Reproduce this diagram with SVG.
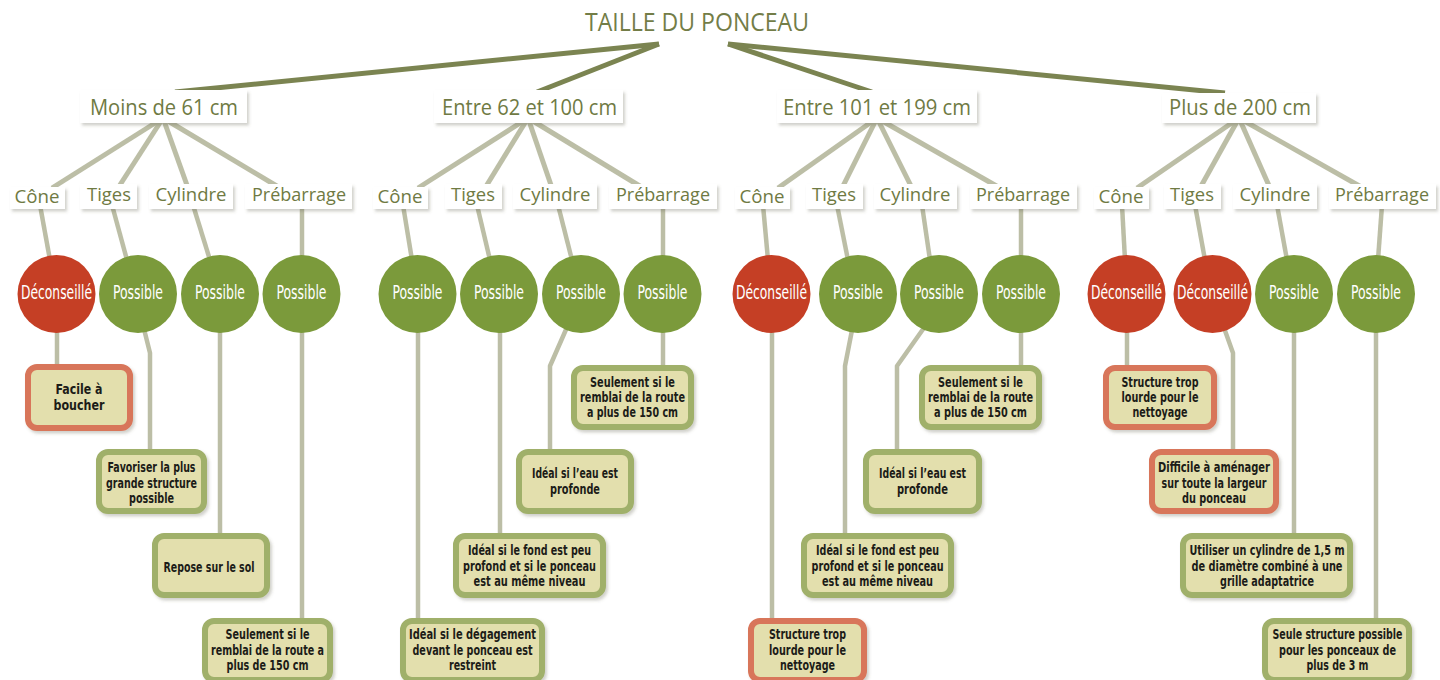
<svg xmlns="http://www.w3.org/2000/svg" width="1440" height="680" viewBox="0 0 1440 680">
<defs>
<filter id="sh" x="-20%" y="-20%" width="140%" height="150%">
<feDropShadow dx="2" dy="2.5" stdDeviation="1.6" flood-color="#5a5a40" flood-opacity="0.28"/>
</filter>
</defs>
<style>
.ttl{font-family:"Open Sans","Noto Sans","Liberation Sans",sans-serif;font-size:25px;fill:#737d47;text-anchor:middle}
.l1{font-family:"Open Sans","Noto Sans","Liberation Sans",sans-serif;font-size:21px;fill:#6f7a43;text-anchor:middle}
.l2{font-family:"Open Sans","Noto Sans","Liberation Sans",sans-serif;font-size:19px;fill:#6f7a43;text-anchor:middle}
.lb{fill:#ffffff;filter:url(#sh)}
.ok{fill:#7b9a3b}
.no{fill:#c53f25}
.ct{font-family:"Liberation Sans Narrow","DejaVu Sans Condensed","Roboto","Liberation Sans",sans-serif;font-stretch:condensed;font-size:19px;fill:#ffffff;text-anchor:middle}
.bx{fill:#e3dfad;stroke:#a0b06b;stroke-width:6;filter:url(#sh)}
.bxr{fill:#e3dfad;stroke:#d8765a;stroke-width:6;filter:url(#sh)}
.bt{font-family:"Liberation Sans Narrow","DejaVu Sans Condensed","Roboto","Liberation Sans",sans-serif;font-stretch:condensed;font-weight:bold;font-size:13.5px;fill:#1c1c18;text-anchor:middle}
.big{font-size:14.5px}
.c0{stroke:#7b8451;stroke-width:5;fill:none}
.c1{stroke:#bcbea6;stroke-width:5;fill:none}
.c2{stroke:#bcbea6;stroke-width:4.5;fill:none;stroke-linejoin:round}
</style>

<g id="connectors">
<line class="c0" x1="659" y1="44" x2="175" y2="92"/>
<line class="c0" x1="659" y1="44" x2="537" y2="92"/>
<line class="c0" x1="728" y1="44" x2="872" y2="92"/>
<line class="c0" x1="728" y1="44" x2="1225" y2="93"/>

<line class="c1" x1="163" y1="118" x2="52" y2="188"/>
<line class="c1" x1="163" y1="118" x2="118" y2="188"/>
<line class="c1" x1="163" y1="118" x2="188" y2="188"/>
<line class="c1" x1="163" y1="118" x2="280" y2="188"/>
<line class="c1" x1="528" y1="118" x2="418" y2="188"/>
<line class="c1" x1="528" y1="118" x2="485" y2="188"/>
<line class="c1" x1="528" y1="118" x2="552" y2="188"/>
<line class="c1" x1="528" y1="118" x2="643" y2="188"/>
<line class="c1" x1="877" y1="118" x2="778" y2="188"/>
<line class="c1" x1="877" y1="118" x2="842" y2="188"/>
<line class="c1" x1="877" y1="118" x2="912" y2="188"/>
<line class="c1" x1="877" y1="118" x2="1000" y2="188"/>
<line class="c1" x1="1239" y1="118" x2="1137" y2="188"/>
<line class="c1" x1="1239" y1="118" x2="1200" y2="188"/>
<line class="c1" x1="1239" y1="118" x2="1270" y2="188"/>
<line class="c1" x1="1239" y1="118" x2="1363" y2="188"/>

<line class="c2" x1="40" y1="205" x2="50" y2="260"/>
<line class="c2" x1="112" y1="205" x2="127" y2="260"/>
<line class="c2" x1="193" y1="205" x2="210" y2="260"/>
<line class="c2" x1="302" y1="205" x2="302" y2="260"/>
<line class="c2" x1="403" y1="205" x2="412" y2="260"/>
<line class="c2" x1="477" y1="205" x2="490" y2="260"/>
<line class="c2" x1="558" y1="205" x2="572" y2="260"/>
<line class="c2" x1="663" y1="205" x2="663" y2="260"/>
<line class="c2" x1="763" y1="205" x2="768" y2="260"/>
<line class="c2" x1="837" y1="205" x2="848" y2="260"/>
<line class="c2" x1="922" y1="205" x2="930" y2="260"/>
<line class="c2" x1="1021" y1="205" x2="1021" y2="260"/>
<line class="c2" x1="1122" y1="205" x2="1125" y2="260"/>
<line class="c2" x1="1195" y1="205" x2="1205" y2="260"/>
<line class="c2" x1="1277" y1="205" x2="1287" y2="260"/>
<line class="c2" x1="1382" y1="205" x2="1378" y2="260"/>

<path class="c2" d="M57,325 V367"/>
<path class="c2" d="M143,325 L150,353 V452"/>
<path class="c2" d="M220,325 V536"/>
<path class="c2" d="M302,325 V621"/>
<path class="c2" d="M418,325 V621"/>
<path class="c2" d="M500,325 V536"/>
<path class="c2" d="M568,325 L550,366 V452"/>
<path class="c2" d="M663,325 V368"/>
<path class="c2" d="M772,325 V621"/>
<path class="c2" d="M853,325 L845,366 V536"/>
<path class="c2" d="M926,325 L897,366 V452"/>
<path class="c2" d="M1021,325 V368"/>
<path class="c2" d="M1127,325 V368"/>
<path class="c2" d="M1223,325 L1233,353 V452"/>
<path class="c2" d="M1294,325 V536"/>
<path class="c2" d="M1376,325 V621"/>
</g>

<g id="title"><text class="ttl" x="697" y="31" textLength="224" lengthAdjust="spacingAndGlyphs">TAILLE DU PONCEAU</text></g>

<g id="size1"><rect class="lb" x="80" y="90" width="167" height="33"/><text class="l1" x="164" y="115" textLength="148" lengthAdjust="spacingAndGlyphs">Moins de 61 cm</text></g>
<g id="size2"><rect class="lb" x="434" y="90" width="189" height="33"/><text class="l1" x="529.5" y="115" textLength="175" lengthAdjust="spacingAndGlyphs">Entre 62 et 100 cm</text></g>
<g id="size3"><rect class="lb" x="777" y="90" width="200" height="33"/><text class="l1" x="877" y="115" textLength="188" lengthAdjust="spacingAndGlyphs">Entre 101 et 199 cm</text></g>
<g id="size4"><rect class="lb" x="1162" y="93" width="154" height="30"/><text class="l1" x="1240" y="115" textLength="142" lengthAdjust="spacingAndGlyphs">Plus de 200 cm</text></g>

<g id="g1-cone"><rect class="lb" x="10" y="187" width="55" height="22"/><text class="l2" x="37" y="203" textLength="45" lengthAdjust="spacingAndGlyphs">Cône</text></g>
<g id="g1-tiges"><rect class="lb" x="80" y="184" width="57" height="25"/><text class="l2" x="109" y="201" textLength="44" lengthAdjust="spacingAndGlyphs">Tiges</text></g>
<g id="g1-cyl"><rect class="lb" x="149" y="184" width="84" height="25"/><text class="l2" x="191" y="201" textLength="71" lengthAdjust="spacingAndGlyphs">Cylindre</text></g>
<g id="g1-pre"><rect class="lb" x="245" y="184" width="107" height="25"/><text class="l2" x="299" y="201" textLength="94" lengthAdjust="spacingAndGlyphs">Prébarrage</text></g>

<g id="g2-cone"><rect class="lb" x="373" y="187" width="55" height="22"/><text class="l2" x="400" y="203" textLength="45" lengthAdjust="spacingAndGlyphs">Cône</text></g>
<g id="g2-tiges"><rect class="lb" x="445" y="184" width="57" height="25"/><text class="l2" x="473" y="201" textLength="44" lengthAdjust="spacingAndGlyphs">Tiges</text></g>
<g id="g2-cyl"><rect class="lb" x="513" y="184" width="84" height="25"/><text class="l2" x="555" y="201" textLength="71" lengthAdjust="spacingAndGlyphs">Cylindre</text></g>
<g id="g2-pre"><rect class="lb" x="609" y="184" width="108" height="25"/><text class="l2" x="663" y="201" textLength="94" lengthAdjust="spacingAndGlyphs">Prébarrage</text></g>

<g id="g3-cone"><rect class="lb" x="735" y="187" width="55" height="22"/><text class="l2" x="762" y="203" textLength="45" lengthAdjust="spacingAndGlyphs">Cône</text></g>
<g id="g3-tiges"><rect class="lb" x="806" y="184" width="57" height="25"/><text class="l2" x="834" y="201" textLength="44" lengthAdjust="spacingAndGlyphs">Tiges</text></g>
<g id="g3-cyl"><rect class="lb" x="874" y="184" width="83" height="25"/><text class="l2" x="915" y="201" textLength="71" lengthAdjust="spacingAndGlyphs">Cylindre</text></g>
<g id="g3-pre"><rect class="lb" x="970" y="184" width="107" height="25"/><text class="l2" x="1023" y="201" textLength="94" lengthAdjust="spacingAndGlyphs">Prébarrage</text></g>

<g id="g4-cone"><rect class="lb" x="1094" y="187" width="55" height="22"/><text class="l2" x="1121" y="203" textLength="45" lengthAdjust="spacingAndGlyphs">Cône</text></g>
<g id="g4-tiges"><rect class="lb" x="1164" y="184" width="57" height="25"/><text class="l2" x="1192" y="201" textLength="44" lengthAdjust="spacingAndGlyphs">Tiges</text></g>
<g id="g4-cyl"><rect class="lb" x="1233" y="184" width="84" height="25"/><text class="l2" x="1275" y="201" textLength="71" lengthAdjust="spacingAndGlyphs">Cylindre</text></g>
<g id="g4-pre"><rect class="lb" x="1329" y="184" width="107" height="25"/><text class="l2" x="1382" y="201" textLength="94" lengthAdjust="spacingAndGlyphs">Prébarrage</text></g>

<g id="g1-c1"><circle class="no" cx="56.5" cy="294" r="39"/><text class="ct" x="56.5" y="299" textLength="71" lengthAdjust="spacingAndGlyphs">Déconseillé</text></g>
<g id="g1-c2"><circle class="ok" cx="138" cy="294" r="39"/><text class="ct" x="138" y="299" textLength="50" lengthAdjust="spacingAndGlyphs">Possible</text></g>
<g id="g1-c3"><circle class="ok" cx="220" cy="294" r="39"/><text class="ct" x="220" y="299" textLength="50" lengthAdjust="spacingAndGlyphs">Possible</text></g>
<g id="g1-c4"><circle class="ok" cx="301.5" cy="294" r="39"/><text class="ct" x="301.5" y="299" textLength="50" lengthAdjust="spacingAndGlyphs">Possible</text></g>
<g id="g2-c1"><circle class="ok" cx="417.5" cy="294" r="39"/><text class="ct" x="417.5" y="299" textLength="50" lengthAdjust="spacingAndGlyphs">Possible</text></g>
<g id="g2-c2"><circle class="ok" cx="499" cy="294" r="39"/><text class="ct" x="499" y="299" textLength="50" lengthAdjust="spacingAndGlyphs">Possible</text></g>
<g id="g2-c3"><circle class="ok" cx="581" cy="294" r="39"/><text class="ct" x="581" y="299" textLength="50" lengthAdjust="spacingAndGlyphs">Possible</text></g>
<g id="g2-c4"><circle class="ok" cx="662.5" cy="294" r="39"/><text class="ct" x="662.5" y="299" textLength="50" lengthAdjust="spacingAndGlyphs">Possible</text></g>
<g id="g3-c1"><circle class="no" cx="771.5" cy="294" r="39"/><text class="ct" x="771.5" y="299" textLength="71" lengthAdjust="spacingAndGlyphs">Déconseillé</text></g>
<g id="g3-c2"><circle class="ok" cx="858" cy="294" r="39"/><text class="ct" x="858" y="299" textLength="50" lengthAdjust="spacingAndGlyphs">Possible</text></g>
<g id="g3-c3"><circle class="ok" cx="939" cy="294" r="39"/><text class="ct" x="939" y="299" textLength="50" lengthAdjust="spacingAndGlyphs">Possible</text></g>
<g id="g3-c4"><circle class="ok" cx="1021" cy="294" r="39"/><text class="ct" x="1021" y="299" textLength="50" lengthAdjust="spacingAndGlyphs">Possible</text></g>
<g id="g4-c1"><circle class="no" cx="1126.5" cy="294" r="39"/><text class="ct" x="1126.5" y="299" textLength="71" lengthAdjust="spacingAndGlyphs">Déconseillé</text></g>
<g id="g4-c2"><circle class="no" cx="1212.5" cy="294" r="39"/><text class="ct" x="1212.5" y="299" textLength="71" lengthAdjust="spacingAndGlyphs">Déconseillé</text></g>
<g id="g4-c3"><circle class="ok" cx="1294" cy="294" r="39"/><text class="ct" x="1294" y="299" textLength="50" lengthAdjust="spacingAndGlyphs">Possible</text></g>
<g id="g4-c4"><circle class="ok" cx="1376" cy="294" r="39"/><text class="ct" x="1376" y="299" textLength="50" lengthAdjust="spacingAndGlyphs">Possible</text></g>

<g id="g1-n1"><rect class="bxr" x="28" y="367" width="102" height="61" rx="9"/>
<text class="bt big" x="79" y="394" textLength="47" lengthAdjust="spacingAndGlyphs">Facile à</text>
<text class="bt big" x="79" y="410" textLength="51" lengthAdjust="spacingAndGlyphs">boucher</text></g>
<g id="g1-n2"><rect class="bx" x="99" y="452" width="105" height="59" rx="9"/>
<text class="bt" x="151.5" y="472" textLength="88" lengthAdjust="spacingAndGlyphs">Favoriser la plus</text>
<text class="bt" x="151.5" y="487.5" textLength="91" lengthAdjust="spacingAndGlyphs">grande structure</text>
<text class="bt" x="151.5" y="503" textLength="45" lengthAdjust="spacingAndGlyphs">possible</text></g>
<g id="g1-n3"><rect class="bx" x="155" y="536" width="112" height="59" rx="9"/>
<text class="bt" x="209" y="572" textLength="91" lengthAdjust="spacingAndGlyphs">Repose sur le sol</text></g>
<g id="g1-n4"><rect class="bx" x="205" y="621" width="125" height="59" rx="9"/>
<text class="bt" x="267.5" y="639" textLength="84" lengthAdjust="spacingAndGlyphs">Seulement si le</text>
<text class="bt" x="267.5" y="654.5" textLength="113" lengthAdjust="spacingAndGlyphs">remblai de la route a</text>
<text class="bt" x="267.5" y="670" textLength="82" lengthAdjust="spacingAndGlyphs">plus de 150 cm</text></g>

<g id="g2-n4"><rect class="bx" x="574" y="368" width="117" height="59" rx="9"/>
<text class="bt" x="632.5" y="387" textLength="85" lengthAdjust="spacingAndGlyphs">Seulement si le</text>
<text class="bt" x="632.5" y="402" textLength="105" lengthAdjust="spacingAndGlyphs">remblai de la route</text>
<text class="bt" x="632.5" y="417" textLength="91" lengthAdjust="spacingAndGlyphs">a plus de 150 cm</text></g>
<g id="g2-n3"><rect class="bx" x="519" y="452" width="112" height="59" rx="9"/>
<text class="bt" x="575" y="478" textLength="86" lengthAdjust="spacingAndGlyphs">Idéal si l’eau est</text>
<text class="bt" x="575" y="493.5" textLength="50" lengthAdjust="spacingAndGlyphs">profonde</text></g>
<g id="g2-n2"><rect class="bx" x="456" y="536" width="147" height="59" rx="9"/>
<text class="bt" x="529.5" y="555" textLength="123" lengthAdjust="spacingAndGlyphs">Idéal si le fond est peu</text>
<text class="bt" x="529.5" y="570.5" textLength="133" lengthAdjust="spacingAndGlyphs">profond et si le ponceau</text>
<text class="bt" x="529.5" y="586" textLength="112" lengthAdjust="spacingAndGlyphs">est au même niveau</text></g>
<g id="g2-n1"><rect class="bx" x="403" y="621" width="139" height="59" rx="9"/>
<text class="bt" x="472.5" y="639" textLength="127" lengthAdjust="spacingAndGlyphs">Idéal si le dégagement</text>
<text class="bt" x="472.5" y="654.5" textLength="120" lengthAdjust="spacingAndGlyphs">devant le ponceau est</text>
<text class="bt" x="472.5" y="670" textLength="47" lengthAdjust="spacingAndGlyphs">restreint</text></g>

<g id="g3-n1"><rect class="bxr" x="751" y="621" width="113" height="59" rx="9"/>
<text class="bt" x="807.5" y="639" textLength="77" lengthAdjust="spacingAndGlyphs">Structure trop</text>
<text class="bt" x="807.5" y="654.5" textLength="77" lengthAdjust="spacingAndGlyphs">lourde pour le</text>
<text class="bt" x="807.5" y="670" textLength="55" lengthAdjust="spacingAndGlyphs">nettoyage</text></g>
<g id="g3-n2"><rect class="bx" x="804" y="536" width="147" height="59" rx="9"/>
<text class="bt" x="877.5" y="555" textLength="123" lengthAdjust="spacingAndGlyphs">Idéal si le fond est peu</text>
<text class="bt" x="877.5" y="570.5" textLength="132" lengthAdjust="spacingAndGlyphs">profond et si le ponceau</text>
<text class="bt" x="877.5" y="586" textLength="111" lengthAdjust="spacingAndGlyphs">est au même niveau</text></g>
<g id="g3-n3"><rect class="bx" x="866" y="452" width="113" height="59" rx="9"/>
<text class="bt" x="922.5" y="478" textLength="87" lengthAdjust="spacingAndGlyphs">Idéal si l’eau est</text>
<text class="bt" x="922.5" y="493.5" textLength="51" lengthAdjust="spacingAndGlyphs">profonde</text></g>
<g id="g3-n4"><rect class="bx" x="922" y="368" width="117" height="59" rx="9"/>
<text class="bt" x="980.5" y="387" textLength="85" lengthAdjust="spacingAndGlyphs">Seulement si le</text>
<text class="bt" x="980.5" y="402" textLength="105" lengthAdjust="spacingAndGlyphs">remblai de la route</text>
<text class="bt" x="980.5" y="417" textLength="93" lengthAdjust="spacingAndGlyphs">a plus de 150 cm</text></g>

<g id="g4-n1"><rect class="bxr" x="1106" y="368" width="108" height="59" rx="9"/>
<text class="bt" x="1160" y="387" textLength="77" lengthAdjust="spacingAndGlyphs">Structure trop</text>
<text class="bt" x="1160" y="402" textLength="77" lengthAdjust="spacingAndGlyphs">lourde pour le</text>
<text class="bt" x="1160" y="417" textLength="55" lengthAdjust="spacingAndGlyphs">nettoyage</text></g>
<g id="g4-n2"><rect class="bxr" x="1152" y="452" width="124" height="59" rx="9"/>
<text class="bt" x="1214" y="472" textLength="112" lengthAdjust="spacingAndGlyphs">Difficile à aménager</text>
<text class="bt" x="1214" y="487.5" textLength="105" lengthAdjust="spacingAndGlyphs">sur toute la largeur</text>
<text class="bt" x="1214" y="503" textLength="64" lengthAdjust="spacingAndGlyphs">du ponceau</text></g>
<g id="g4-n3"><rect class="bx" x="1183" y="536" width="167" height="59" rx="9"/>
<text class="bt" x="1267" y="555" textLength="155" lengthAdjust="spacingAndGlyphs">Utiliser un cylindre de 1,5 m</text>
<text class="bt" x="1267" y="570.5" textLength="151" lengthAdjust="spacingAndGlyphs">de diamètre combiné à une</text>
<text class="bt" x="1267" y="586" textLength="94" lengthAdjust="spacingAndGlyphs">grille adaptatrice</text></g>
<g id="g4-n4"><rect class="bx" x="1265" y="621" width="144" height="59" rx="9"/>
<text class="bt" x="1337.5" y="639" textLength="130" lengthAdjust="spacingAndGlyphs">Seule structure possible</text>
<text class="bt" x="1337.5" y="654.5" textLength="117" lengthAdjust="spacingAndGlyphs">pour les ponceaux de</text>
<text class="bt" x="1337.5" y="670" textLength="62" lengthAdjust="spacingAndGlyphs">plus de 3 m</text></g>
</svg>
